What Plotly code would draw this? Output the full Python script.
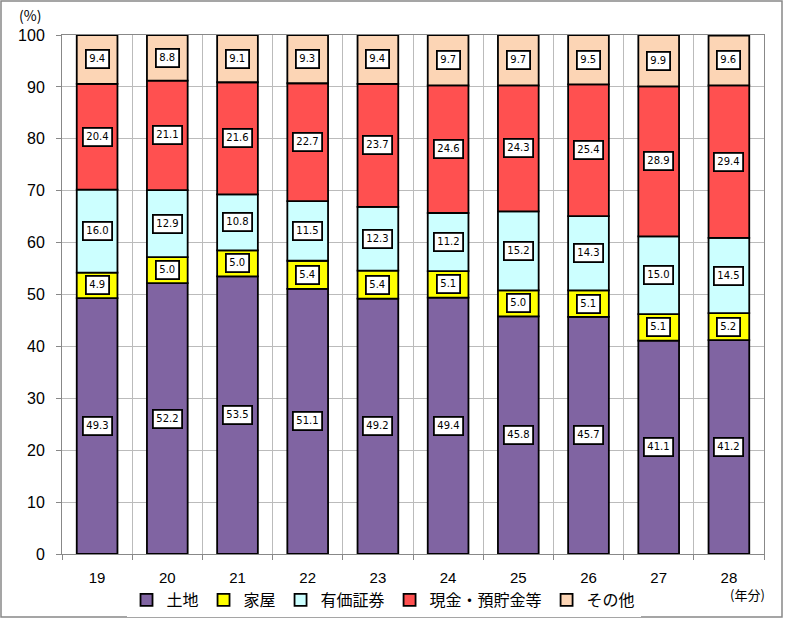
import plotly.graph_objects as go

years = ["19", "20", "21", "22", "23", "24", "25", "26", "27", "28"]
land = [49.3, 52.2, 53.5, 51.1, 49.2, 49.4, 45.8, 45.7, 41.1, 41.2]
house = [4.9, 5.0, 5.0, 5.4, 5.4, 5.1, 5.0, 5.1, 5.1, 5.2]
securities = [16.0, 12.9, 10.8, 11.5, 12.3, 11.2, 15.2, 14.3, 15.0, 14.5]
cash = [20.4, 21.1, 21.6, 22.7, 23.7, 24.6, 24.3, 25.4, 28.9, 29.4]
other = [9.4, 8.8, 9.1, 9.3, 9.4, 9.7, 9.7, 9.5, 9.9, 9.6]

series = [
    ("土地", land, "#8064A2"),
    ("家屋", house, "#FFFF00"),
    ("有価証券", securities, "#CCFFFF"),
    ("現金・預貯金等", cash, "#FF5050"),
    ("その他", other, "#FCD5B5"),
]

W, H = 785, 619
L, R, T, B = 62, 21, 35, 65
PW, PH = W - L - R, H - T - B


def px_x(x):
    return (x - L) / PW


def px_y(y):
    return (H - B - y) / PH


fig = go.Figure()
annotations = []
base = [0.0] * len(years)
for name, vals, color in series:
    fig.add_trace(go.Bar(
        x=years, y=vals, name=name, base=base[:],
        marker=dict(color=color, line=dict(color="black", width=1.8)),
        width=0.58,
    ))
    for i, v in enumerate(vals):
        annotations.append(dict(
            x=i, y=base[i] + v / 2, text=f"{v:.1f}", showarrow=False,
            font=dict(family="DejaVu Sans", size=10, color="black"),
            bgcolor="white", bordercolor="black", borderwidth=1.8, borderpad=2.5,
        ))
    base = [b + v for b, v in zip(base, vals)]

annotations.append(dict(x=px_x(30), y=px_y(15), xref="paper", yref="paper",
                        xanchor="center", yanchor="middle",
                        text="(%)", showarrow=False,
                        font=dict(family="Noto Sans CJK JP", size=14, color="black")))
annotations.append(dict(x=px_x(747), y=px_y(594), xref="paper", yref="paper",
                        xanchor="center", yanchor="middle",
                        text="(年分)", showarrow=False,
                        font=dict(family="Noto Sans CJK JP", size=13, color="black")))

fig.update_layout(
    barmode="overlay",
    width=W, height=H,
    margin=dict(l=L, r=R, t=T, b=B, autoexpand=False),
    paper_bgcolor="white", plot_bgcolor="white",
    font=dict(family="Noto Sans CJK JP", color="black"),
    annotations=annotations,
    legend=dict(orientation="h", x=0.458, xanchor="center", y=px_y(600), yanchor="middle",
                font=dict(family="Noto Sans CJK JP", size=16), itemwidth=30,
                traceorder="normal"),
    shapes=[dict(type="rect", xref="paper", yref="paper",
                 x0=px_x(1), x1=px_x(782), y0=px_y(617), y1=px_y(1),
                 line=dict(color="#888888", width=1.5))],
    xaxis=dict(type="category", tickson="boundaries", showgrid=True, gridcolor="#BBBBBB",
               gridwidth=1, ticks="outside", ticklen=5, tickcolor="#888888",
               range=[-0.5, 9.5], tickangle=0, ticklabelstandoff=10,
               showline=True, linecolor="#888888", linewidth=1, mirror=True,
               tickfont=dict(family="Liberation Sans", size=15)),
    yaxis=dict(range=[0, 100], dtick=10, showgrid=True, gridcolor="#BBBBBB", gridwidth=1,
               ticks="outside", ticklen=5, tickcolor="#888888", ticklabelstandoff=8,
               showline=True, linecolor="#888888", linewidth=1, mirror=True,
               tickfont=dict(family="Liberation Sans", size=16), zeroline=False),
)

fig.write_html("out.html", config={"displayModeBar": False},
               post_script="document.body.style.margin='0';")
